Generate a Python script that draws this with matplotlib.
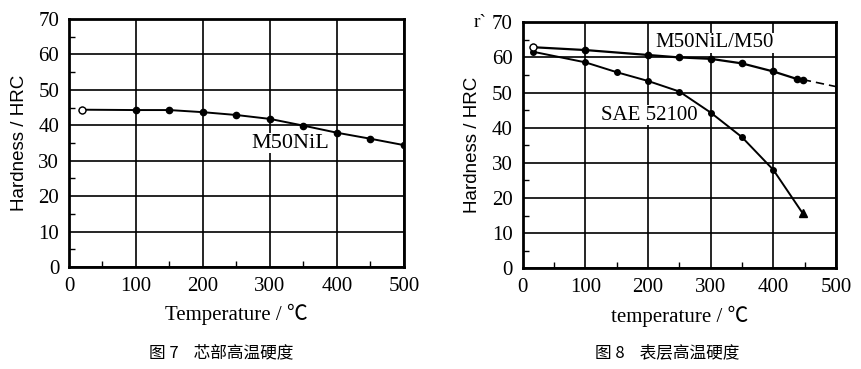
import matplotlib.pyplot as plt
from matplotlib.ticker import MultipleLocator

# figure 7: core hardness vs temperature
core_t = [20, 100, 150, 200, 250, 300, 350, 400, 450, 500]
core_hrc = [44.4, 44.3, 44.3, 43.7, 42.9, 41.8, 39.9, 37.9, 36.2, 34.4]

# figure 8: surface hardness vs temperature
m50_t = [17, 100, 200, 250, 300, 350, 400, 437, 447]
m50_hrc = [62.9, 62.1, 60.7, 60.0, 59.6, 58.3, 56.0, 53.9, 53.7]
m50_ext_t = [447, 500]
m50_ext_hrc = [53.7, 51.7]
sae_t = [17, 100, 150, 200, 250, 300, 350, 400, 447]
sae_hrc = [61.6, 58.6, 55.8, 53.3, 50.3, 44.3, 37.3, 28.0, 15.6]

SERIF = ['Liberation Serif', 'DejaVu Serif']
SYM = ['Liberation Serif', 'Noto Sans CJK SC', 'DejaVu Sans']
CJK = ['Noto Sans CJK SC', 'DejaVu Sans']

fig = plt.figure(figsize=(8.61, 3.69), dpi=100)
ax1 = fig.add_axes([0.0801, 0.2764, 0.3891, 0.6721])
ax2 = fig.add_axes([0.6071, 0.2729, 0.3639, 0.6667])


def style_axes(ax):
    ax.set_xlim(0, 500)
    ax.set_ylim(0, 70)
    ax.xaxis.set_major_locator(MultipleLocator(100))
    ax.yaxis.set_major_locator(MultipleLocator(10))
    ax.xaxis.set_minor_locator(MultipleLocator(50))
    ax.yaxis.set_minor_locator(MultipleLocator(5))
    ax.grid(True, which='major', color='black', linewidth=1.2)
    ax.set_axisbelow(True)
    ax.tick_params(which='major', length=0, pad=7, labelsize=15)
    ax.tick_params(which='minor', direction='in', length=4, width=1,
                   top=False, right=False)
    for lbl in ax.get_xticklabels() + ax.get_yticklabels():
        lbl.set_family(SERIF)
    for s in ax.spines.values():
        s.set_linewidth(2)


# --- figure 7
style_axes(ax1)
ax1.plot(core_t, core_hrc, color='black', linewidth=1.4, marker='o',
         markersize=4.5, zorder=3)
ax1.plot(core_t[:1], core_hrc[:1], linestyle='None', marker='o',
         markersize=5, markerfacecolor='white', markeredgecolor='black', zorder=4)
ax1.text(330, 35, 'M50NiL', family=SERIF, fontsize=16, ha='center', va='center',
         bbox=dict(facecolor='white', edgecolor='none', pad=0.5), zorder=2)
ax1.set_xlabel('Temperature / ℃', family=SYM, fontsize=15, labelpad=6)
ax1.set_ylabel('Hardness / HRC', family=['Liberation Sans', 'DejaVu Sans'],
               fontsize=13.5)
ax1.yaxis.set_label_coords(-0.122, 0.5)
fig.text(221 / 861, 1 - 353 / 369, '图 7    芯部高温硬度', family=CJK,
         fontsize=12, ha='center', va='center')

# --- figure 8
style_axes(ax2)
ax2.plot(m50_t, m50_hrc, color='black', linewidth=1.6, marker='o',
         markersize=4.5, zorder=3)
ax2.plot(m50_ext_t, m50_ext_hrc, color='black', linewidth=1.2,
         linestyle=(0, (5, 3)), zorder=3)
ax2.plot(m50_t[:1], m50_hrc[:1], linestyle='None', marker='o', markersize=5,
         markerfacecolor='white', markeredgecolor='black', zorder=4)
ax2.plot(sae_t[:-1], sae_hrc[:-1], color='black', linewidth=1.4, marker='o',
         markersize=4, zorder=3)
ax2.plot(sae_t[-2:], sae_hrc[-2:], color='black', linewidth=1.4, zorder=3)
ax2.plot(sae_t[-1:], sae_hrc[-1:], linestyle='None', marker='^', markersize=5.5,
         color='black', zorder=4)
ax2.text(306, 64.2, 'M50NiL/M50', family=SERIF, fontsize=15, ha='center',
         va='center', bbox=dict(facecolor='white', edgecolor='none', pad=0.5),
         zorder=2)
ax2.text(202, 43.6, 'SAE 52100', family=SERIF, fontsize=15, ha='center',
         va='center', bbox=dict(facecolor='white', edgecolor='none', pad=0.5),
         zorder=2)
ax2.text(-0.136, 1.0, 'r`', transform=ax2.transAxes, family=SERIF,
         fontsize=14, ha='center', va='center')
ax2.set_xlabel('temperature / ℃', family=SYM, fontsize=15, labelpad=6)
ax2.set_ylabel('Hardness / HRC', family=['Liberation Sans', 'DejaVu Sans'],
               fontsize=13.5)
ax2.yaxis.set_label_coords(-0.133, 0.5)
fig.text(667 / 861, 1 - 353 / 369, '图 8    表层高温硬度', family=CJK,
         fontsize=12, ha='center', va='center')

fig.savefig('out.png', dpi=100)
